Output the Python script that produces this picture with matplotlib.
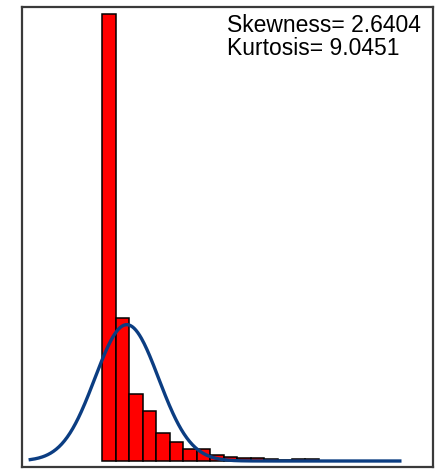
import numpy as np
import matplotlib
matplotlib.use('Agg')
import matplotlib.pyplot as plt

# histogram bar heights, one per unit-width bin starting at 0
counts = [447, 143, 67, 50, 28.5, 19, 12.5, 12, 6, 4.5, 3.5, 3, 2.5, 1, 2.5, 2.5]
skew_txt = 'Skewness= 2.6404'
kurt_txt = 'Kurtosis= 9.0451'
curve_range = (-5.3, 22.0)

counts = np.array(counts, dtype=float)
edges = np.arange(len(counts) + 1)
centers = edges[:-1] + 0.5

# normal fit from the histogram itself
total = counts.sum()
mu = (counts * centers).sum() / total
sd = np.sqrt((counts * (centers - mu) ** 2).sum() / total)
xs = np.linspace(curve_range[0], curve_range[1], 400)
ys = total / (sd * np.sqrt(2 * np.pi)) * np.exp(-0.5 * ((xs - mu) / sd) ** 2)

fig = plt.figure(figsize=(4.36, 4.71), dpi=100)
ax = fig.add_axes([22 / 436, 4 / 471, 411 / 436, 460 / 471])

ax.bar(edges[:-1], counts, width=1.0, align='edge', color='#ff0000',
       edgecolor='black', linewidth=1.1, zorder=2)
ax.plot(xs, ys, color='#0b3d82', linewidth=2.4, zorder=3)

ax.set_xlim(-5.91, 24.45)
ax.set_ylim(-6, 454)
ax.set_xticks([])
ax.set_yticks([])
for s in ax.spines.values():
    s.set_color('#3a3a3a')
    s.set_linewidth(1.6)

ax.text(0.499, 0.9457, skew_txt, transform=ax.transAxes, fontsize=16.5,
        family='Liberation Sans', va='baseline', ha='left')
ax.text(0.499, 0.8957, kurt_txt, transform=ax.transAxes, fontsize=16.5,
        family='Liberation Sans', va='baseline', ha='left')

fig.savefig('out.png', dpi=100)
